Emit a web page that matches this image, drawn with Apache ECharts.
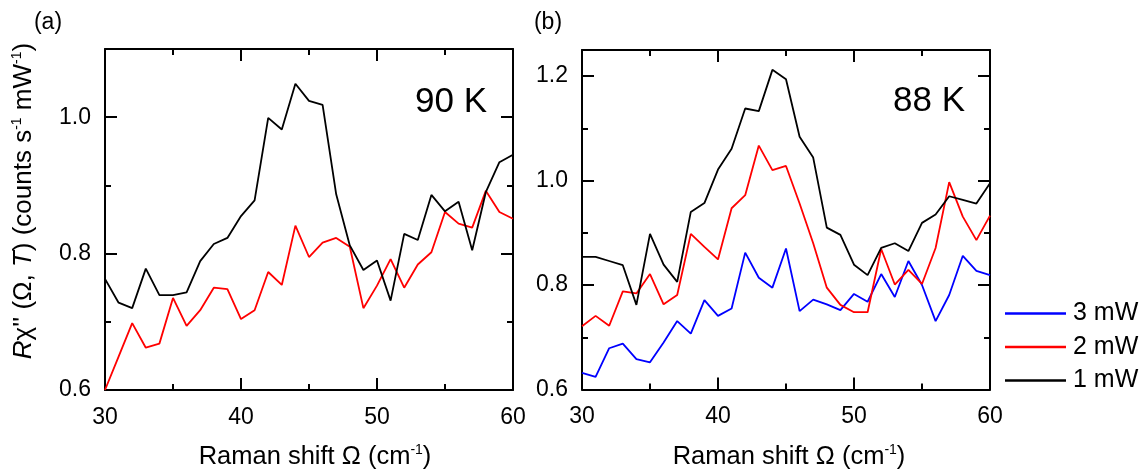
<!DOCTYPE html>
<html>
<head>
<meta charset="utf-8">
<script src="https://cdn.jsdelivr.net/npm/echarts@6/dist/echarts.min.js"></script>
<style>
  html, body { margin: 0; padding: 0; background: #fff; }
  #chart { width: 1145px; height: 473px; }
</style>
</head>
<body>
<div id="chart"></div>
<script>
// Raman shift (cm^-1) sampled in 1 cm^-1 steps
const ramanShift = [30, 31, 32, 33, 34, 35, 36, 37, 38, 39, 40, 41, 42, 43, 44, 45,
                    46, 47, 48, 49, 50, 51, 52, 53, 54, 55, 56, 57, 58, 59, 60];

// (a) T = 90 K
const k90_1mW = [0.763, 0.728, 0.720, 0.778, 0.739, 0.739, 0.743, 0.789, 0.814, 0.823, 0.855,
                 0.878, 0.999, 0.982, 1.049, 1.024, 1.018, 0.887, 0.812, 0.776, 0.790, 0.731,
                 0.829, 0.820, 0.886, 0.862, 0.876, 0.805, 0.890, 0.934, 0.945];
const k90_2mW = [0.600, 0.649, 0.698, 0.662, 0.668, 0.735, 0.694, 0.717, 0.750, 0.748, 0.704,
                 0.717, 0.773, 0.754, 0.841, 0.795, 0.816, 0.823, 0.810, 0.720, 0.753, 0.792,
                 0.750, 0.784, 0.802, 0.861, 0.844, 0.838, 0.892, 0.861, 0.851];

// (b) T = 88 K
const k88_1mW = [0.854, 0.854, 0.846, 0.838, 0.762, 0.898, 0.839, 0.806, 0.940, 0.957, 1.021,
                 1.061, 1.138, 1.133, 1.212, 1.194, 1.084, 1.044, 0.910, 0.896, 0.839, 0.819,
                 0.871, 0.880, 0.865, 0.919, 0.935, 0.970, 0.963, 0.956, 0.995];
const k88_2mW = [0.721, 0.741, 0.722, 0.788, 0.784, 0.821, 0.763, 0.781, 0.898, 0.873, 0.849,
                 0.947, 0.972, 1.067, 1.020, 1.028, 0.956, 0.880, 0.795, 0.762, 0.748, 0.748,
                 0.869, 0.801, 0.829, 0.802, 0.871, 0.997, 0.931, 0.886, 0.933];
const k88_3mW = [0.632, 0.624, 0.679, 0.688, 0.658, 0.652, 0.690, 0.731, 0.707, 0.771, 0.741,
                 0.755, 0.862, 0.814, 0.795, 0.870, 0.750, 0.772, 0.763, 0.752, 0.783, 0.768,
                 0.821, 0.777, 0.846, 0.800, 0.731, 0.781, 0.856, 0.827, 0.819];

const legendNames = ['3 mW', '2 mW', '1 mW'];
const panelLabels = ['(a)', '(b)'];
const tempLabels = ['90 K', '88 K'];

const FONT = '"Liberation Sans", Arial, Helvetica, sans-serif';
const INK = '#000';
const COLORS = { '1 mW': '#000000', '2 mW': '#ff0000', '3 mW': '#0000ff' };

const pair = vals => ramanShift.map((x, i) => [x, vals[i]]);

function xAxisDef(gridIndex, position, showLabels) {
  return {
    type: 'value', gridIndex, position,
    min: 30, max: 60, interval: 10,
    axisLine: { show: true, onZero: false, lineStyle: { color: INK, width: 2 } },
    axisTick: { show: true, inside: true, length: 12, lineStyle: { color: INK, width: 2 } },
    minorTick: { show: true, splitNumber: 2, length: 6, lineStyle: { color: INK, width: 2 } },
    splitLine: { show: false }, minorSplitLine: { show: false },
    axisLabel: { show: showLabels, margin: 16, color: INK, fontSize: 23, fontFamily: FONT }
  };
}

function yAxisDef(gridIndex, position, max, showLabels) {
  return {
    type: 'value', gridIndex, position,
    min: 0.6, max, interval: 0.2,
    axisLine: { show: true, onZero: false, lineStyle: { color: INK, width: 2 } },
    axisTick: { show: true, inside: true, length: 12, lineStyle: { color: INK, width: 2 } },
    minorTick: { show: true, splitNumber: 2, length: 6, lineStyle: { color: INK, width: 2 } },
    splitLine: { show: false }, minorSplitLine: { show: false },
    axisLabel: {
      show: showLabels, margin: 14, color: INK, fontSize: 23, fontFamily: FONT,
      showMaxLabel: false,
      formatter: v => v.toFixed(1)
    }
  };
}

function lineSeries(name, vals, xi, yi) {
  return {
    name, type: 'line', xAxisIndex: xi, yAxisIndex: yi,
    data: pair(vals), symbol: 'none', smooth: false,
    lineStyle: { color: COLORS[name], width: 1.8 },
    itemStyle: { color: COLORS[name] },
    z: 3
  };
}

function makeRich(size) {
  return {
    n: { fontSize: size, fontFamily: FONT, color: INK, lineHeight: size + 2 },
    i: { fontSize: size, fontFamily: FONT, color: INK, fontStyle: 'italic', lineHeight: size + 2 },
    s: { fontSize: 14, fontFamily: FONT, color: INK, verticalAlign: 'top', lineHeight: size + 2 }
  };
}

function plainText(x, y, text, size, align) {
  return {
    type: 'text', x, y, silent: true,
    style: {
      text, fontSize: size, fontFamily: FONT, fill: INK,
      align: align || 'center', verticalAlign: 'middle',
      textAlign: align || 'center', textVerticalAlign: 'middle'
    }
  };
}

function richText(x, y, text, size, rotation) {
  return {
    type: 'text', x, y, rotation: rotation || 0, silent: true,
    style: {
      text, rich: makeRich(size), fontSize: size, fontFamily: FONT, fill: INK,
      align: 'center', verticalAlign: 'middle',
      textAlign: 'center', textVerticalAlign: 'middle'
    }
  };
}

const xTitle = '{n|Raman shift Ω (cm}{s|-1}{n|)}';
const yTitle = "{i|R}{n|χ'' (Ω, }{i|T}{n|) (counts s}{s|-1}{n| mW}{s|-1}{n|)}";

const option = {
  animation: false,
  backgroundColor: '#fff',
  grid: [
    { left: 105, top: 49, width: 408, height: 341 },
    { left: 582, top: 50, width: 408, height: 339.5 }
  ],
  xAxis: [
    xAxisDef(0, 'bottom', true), xAxisDef(0, 'top', false),
    xAxisDef(1, 'bottom', true), xAxisDef(1, 'top', false)
  ],
  yAxis: [
    yAxisDef(0, 'left', 1.1, true), yAxisDef(0, 'right', 1.1, false),
    yAxisDef(1, 'left', 1.25, true), yAxisDef(1, 'right', 1.25, false)
  ],
  legend: {
    data: legendNames,
    orient: 'vertical',
    left: 1000, top: 296,
    icon: 'rect', itemWidth: 61, itemHeight: 2.5, itemGap: 8.5,
    selectedMode: false,
    textStyle: { fontSize: 25, fontFamily: FONT, color: INK, lineHeight: 25, padding: [0, 0, 0, 2] }
  },
  series: [
    lineSeries('2 mW', k90_2mW, 0, 0),
    lineSeries('1 mW', k90_1mW, 0, 0),
    lineSeries('3 mW', k88_3mW, 2, 2),
    lineSeries('2 mW', k88_2mW, 2, 2),
    lineSeries('1 mW', k88_1mW, 2, 2)
  ],
  graphic: [
    plainText(48, 23, panelLabels[0], 23),
    plainText(548, 23, panelLabels[1], 23),
    plainText(415, 102.5, tempLabels[0], 35, 'left'),
    plainText(893, 101.5, tempLabels[1], 35, 'left'),
    richText(315, 457, xTitle, 25.5),
    richText(789, 457, xTitle, 25.5),
    richText(24, 201, yTitle, 26, Math.PI / 2)
  ]
};

const chart = echarts.init(document.getElementById('chart'), null, { renderer: 'canvas' });
chart.setOption(option);
</script>
</body>
</html>
